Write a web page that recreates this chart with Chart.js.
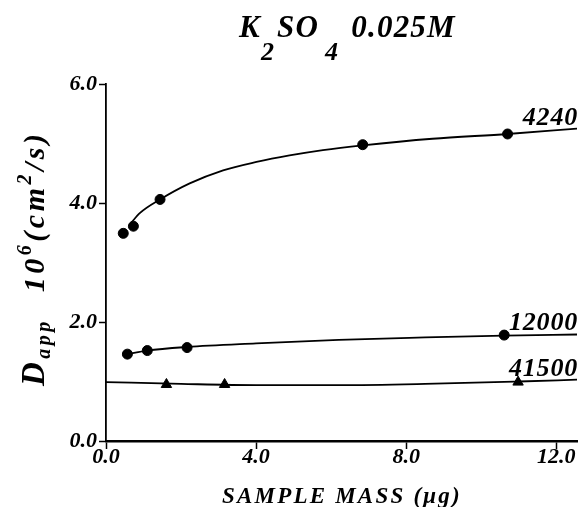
<!DOCTYPE html>
<html>
<head>
<meta charset="utf-8">
<script src="https://cdn.jsdelivr.net/npm/chart.js@4.4.1/dist/chart.umd.min.js"></script>
<style>
body { margin: 0; background: #fff; }
#wrap { width: 584px; height: 507px; }
</style>
</head>
<body>
<div id="wrap"><canvas id="dapp-chart" width="584" height="507"></canvas></div>
<script>
// values: sample mass (ug) vs D app (10^6 cm2/s)
var seriesNames = ['4240', '12000', '41500'];

var mass4240 = [0.46, 0.73, 1.44, 6.84, 10.70];
var dapp4240 = [3.49, 3.61, 4.06, 4.98, 5.16];
var fitMass4240 = [0.66, 0.90, 1.44, 2.23, 3.12, 4.01, 4.89, 5.78, 6.84, 8.70, 10.70, 12.55];
var fitDapp4240 = [3.66, 3.83, 4.06, 4.33, 4.55, 4.69, 4.80, 4.89, 4.97, 5.08, 5.16, 5.25];

var mass12000 = [0.57, 1.10, 2.16, 10.61];
var dapp12000 = [1.46, 1.52, 1.57, 1.78];
var fitMass12000 = [0.57, 1.10, 2.16, 4.0, 6.2, 8.5, 10.6, 12.55];
var fitDapp12000 = [1.46, 1.52, 1.58, 1.64, 1.70, 1.74, 1.77, 1.79];

var mass41500 = [1.61, 3.16, 10.98];
var dapp41500 = [0.95, 0.95, 0.99];
var fitMass41500 = [0, 2.0, 4.0, 6.2, 8.5, 11.0, 12.55];
var fitDapp41500 = [0.99, 0.96, 0.94, 0.94, 0.96, 1.00, 1.03];

var xTicks = [0, 4, 8, 12];
var yTicks = [0, 2, 4, 6];

var serif = '"Liberation Serif", "Times New Roman", serif';

function toPoints(xs, ys) {
    return xs.map(function(x, i) { return { x: x, y: ys[i] }; });
}

function fitLine(xs, ys) {
    return {
        data: toPoints(xs, ys),
        showLine: true,
        borderColor: '#000',
        borderWidth: 1.8,
        pointRadius: 0,
        cubicInterpolationMode: 'monotone'
    };
}

function markers(xs, ys, style, r) {
    return {
        data: toPoints(xs, ys),
        showLine: false,
        pointStyle: style,
        pointRadius: r,
        backgroundColor: '#000',
        borderColor: '#000',
        borderWidth: 1
    };
}

// draws text pieces one char at a time so spacing can be widened
function drawRuns(ctx, runs, x, y, spacing) {
    for (var run of runs) {
        if (run.gap) { x += run.gap; continue; }
        ctx.font = 'italic bold ' + run.size + 'px ' + serif;
        for (var ch of run.t) {
            ctx.fillText(ch, x, y + (run.dy || 0));
            x += ctx.measureText(ch).width + spacing;
        }
    }
    return x;
}

var textPlugin = {
    id: 'figureText',
    afterDraw: function(chart) {
        var ctx = chart.ctx;
        var area = chart.chartArea;
        ctx.save();
        ctx.fillStyle = '#000';
        ctx.textBaseline = 'alphabetic';
        ctx.textAlign = 'left';

        // title K2SO4 0.025M
        drawRuns(ctx, [
            { t: 'K', size: 31 },
            { t: '2', size: 26, dy: 23 },
            { gap: 2 },
            { t: 'SO', size: 31 },
            { gap: 6 },
            { t: '4', size: 26, dy: 23 },
            { gap: 12 },
            { t: '0.025M', size: 31 }
        ], 239, 37, 1.2);

        // x axis title
        drawRuns(ctx, [
            { t: 'SAMPLE', size: 23 },
            { gap: 8 },
            { t: 'MASS', size: 23 },
            { gap: 8 },
            { t: '(\u03bcg)', size: 23 }
        ], 222, 503, 2.2);

        // y axis title, rotated
        ctx.save();
        ctx.translate(44, 386);
        ctx.rotate(-Math.PI / 2);
        drawRuns(ctx, [
            { t: 'D', size: 33 },
            { t: 'app', size: 20, dy: 6 },
            { gap: 26 },
            { t: '10', size: 30 },
            { t: '6', size: 20, dy: -13 },
            { t: '(cm', size: 30 },
            { t: '2', size: 20, dy: -13 },
            { t: '/s)', size: 30 }
        ], 0, 0, 3.5);
        ctx.restore();

        // series labels at the right end of each fit
        var ends = [
            [fitMass4240, fitDapp4240],
            [fitMass12000, fitDapp12000],
            [fitMass41500, fitDapp41500]
        ];
        ctx.textAlign = 'left';
        ends.forEach(function(e, i) {
            var py = chart.scales.y.getPixelForValue(e[1][e[1].length - 1]);
            ctx.font = 'italic bold 26px ' + serif;
            var w = ctx.measureText(seriesNames[i]).width + seriesNames[i].length * 0.8;
            drawRuns(ctx, [{ t: seriesNames[i], size: 26 }], area.right + 1 - w, py - 4, 0.8);
        });
        ctx.restore();
    }
};

var tickFont = { family: serif, size: 22, style: 'italic', weight: 'bold' };

var ctx = document.getElementById('dapp-chart').getContext('2d');
var myChart = new Chart(ctx, {
    type: 'scatter',
    data: {
        datasets: [
            fitLine(fitMass4240, fitDapp4240),
            fitLine(fitMass12000, fitDapp12000),
            fitLine(fitMass41500, fitDapp41500),
            markers(mass4240, dapp4240, 'circle', 5),
            markers(mass12000, dapp12000, 'circle', 5),
            markers(mass41500, dapp41500, 'triangle', 6)
        ]
    },
    options: {
        responsive: false,
        animation: false,
        devicePixelRatio: 1,
        layout: { padding: { top: 84, right: 6, bottom: 0, left: 0 } },
        plugins: { legend: { display: false }, tooltip: { enabled: false } },
        scales: {
            x: {
                type: 'linear',
                min: 0,
                max: 12.55,
                afterBuildTicks: function(scale) {
                    scale.ticks = xTicks.map(function(v) { return { value: v }; });
                },
                afterFit: function(scale) { scale.height = 66; },
                border: { display: true, color: '#000', width: 2.5 },
                grid: { display: true, drawOnChartArea: false, drawTicks: true, tickLength: 8, tickWidth: 1.5, tickColor: '#000' },
                ticks: {
                    color: '#000',
                    font: tickFont,
                    padding: -5,
                    maxRotation: 0,
                    callback: function(v) { return v.toFixed(1); }
                }
            },
            y: {
                type: 'linear',
                min: 0,
                max: 6,
                afterBuildTicks: function(scale) {
                    scale.ticks = yTicks.map(function(v) { return { value: v }; });
                },
                afterFit: function(scale) { scale.width = 106; },
                border: { display: true, color: '#000', width: 1.8 },
                grid: { display: true, drawOnChartArea: false, drawTicks: true, tickLength: 7, tickWidth: 1.5, tickColor: '#000' },
                ticks: {
                    color: '#000',
                    font: tickFont,
                    padding: 2,
                    callback: function(v) { return v.toFixed(1); }
                }
            }
        }
    },
    plugins: [textPlugin]
});
</script>
</body>
</html>
